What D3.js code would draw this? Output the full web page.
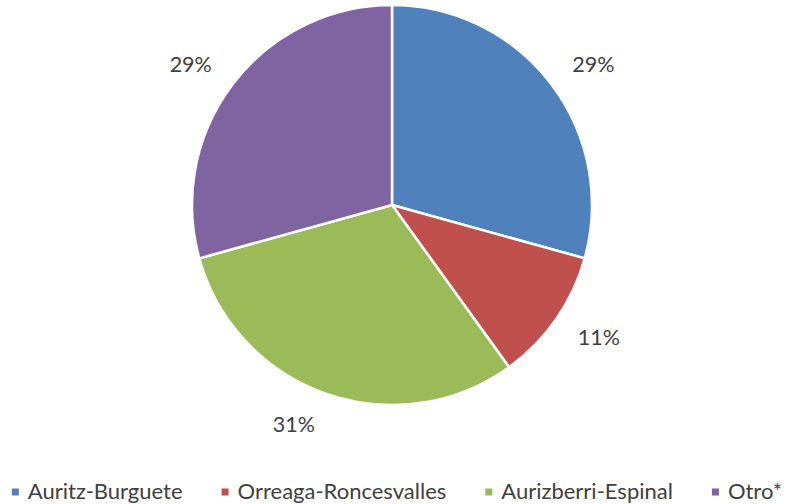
<!DOCTYPE html>
<html>
<head>
<meta charset="utf-8">
<script src="https://cdn.jsdelivr.net/npm/d3@7"></script>
<style>
  html, body { margin: 0; padding: 0; background: #ffffff; }
  svg { display: block; }
</style>
</head>
<body>
<svg id="chart" width="786" height="504"></svg>
<script>
// ---- data ----
const categories = ["Auritz-Burguete", "Orreaga-Roncesvalles", "Aurizberri-Espinal", "Otro*"];
const values = [29.3, 10.75, 30.65, 29.3];
const colors = ["#4F81BD", "#C0504D", "#9BBB59", "#8064A2"];

// ---- layout ----
const W = 786, H = 504;
const cx = 392, cy = 205, radius = 200;
const fontFamily = "Lato, 'Open Sans', sans-serif";
const textColor = "#404040";

const svg = d3.select("#chart");
const data = categories.map((c, i) => ({ name: c, value: values[i], color: colors[i] }));
const total = d3.sum(values);

const pie = d3.pie().sort(null).value(d => d.value);
const arcs = pie(data);
const arc = d3.arc().innerRadius(0).outerRadius(radius);

const g = svg.append("g").attr("transform", `translate(${cx},${cy})`);

g.selectAll("path.slice")
  .data(arcs)
  .join("path")
  .attr("class", "slice")
  .attr("d", arc)
  .attr("fill", d => d.data.color)
  .attr("stroke", "#ffffff")
  .attr("stroke-width", 2.5)
  .attr("stroke-linejoin", "miter");

// data labels (outside end)
const labelR = 222;
g.selectAll("text.label")
  .data(arcs)
  .join("text")
  .attr("class", "label")
  .attr("font-family", fontFamily)
  .attr("font-size", 21.5)
  .attr("fill", textColor)
  .attr("text-anchor", "middle")
  .attr("dy", "0.36em")
  .text(d => Math.round(d.data.value / total * 100) + "%")
  .each(function(d) {
    const a = (d.startAngle + d.endAngle) / 2;
    const ax = Math.sin(a) * labelR, ay = -Math.cos(a) * labelR;
    const w = this.getComputedTextLength();
    const x = ax + Math.sign(Math.sin(a)) * (w / 2 + 3.5);
    const y = ay - Math.cos(a) * 10;
    d3.select(this).attr("x", x).attr("y", y);
  });

// legend
const legendY = 491;
const sq = 7, sqGap = 9, itemGap = 39;
const legend = svg.append("g");
const items = legend.selectAll("g.item").data(data).join("g").attr("class", "item");
items.append("rect")
  .attr("width", sq).attr("height", sq)
  .attr("y", legendY - sq / 2 + 1)
  .attr("fill", d => d.color);
items.append("text")
  .attr("x", sq + sqGap)
  .attr("y", legendY)
  .attr("dy", "0.36em")
  .attr("font-family", fontFamily)
  .attr("font-size", 22)
  .attr("fill", textColor)
  .text(d => d.name);

let xpos = 0;
items.each(function() {
  const t = d3.select(this).select("text").node().getComputedTextLength();
  d3.select(this).attr("transform", `translate(${xpos},0)`);
  xpos += sq + sqGap + t + itemGap;
});
const legendW = xpos - itemGap;
legend.attr("transform", `translate(${(W - legendW) / 2 + 4},0)`);
</script>
</body>
</html>
